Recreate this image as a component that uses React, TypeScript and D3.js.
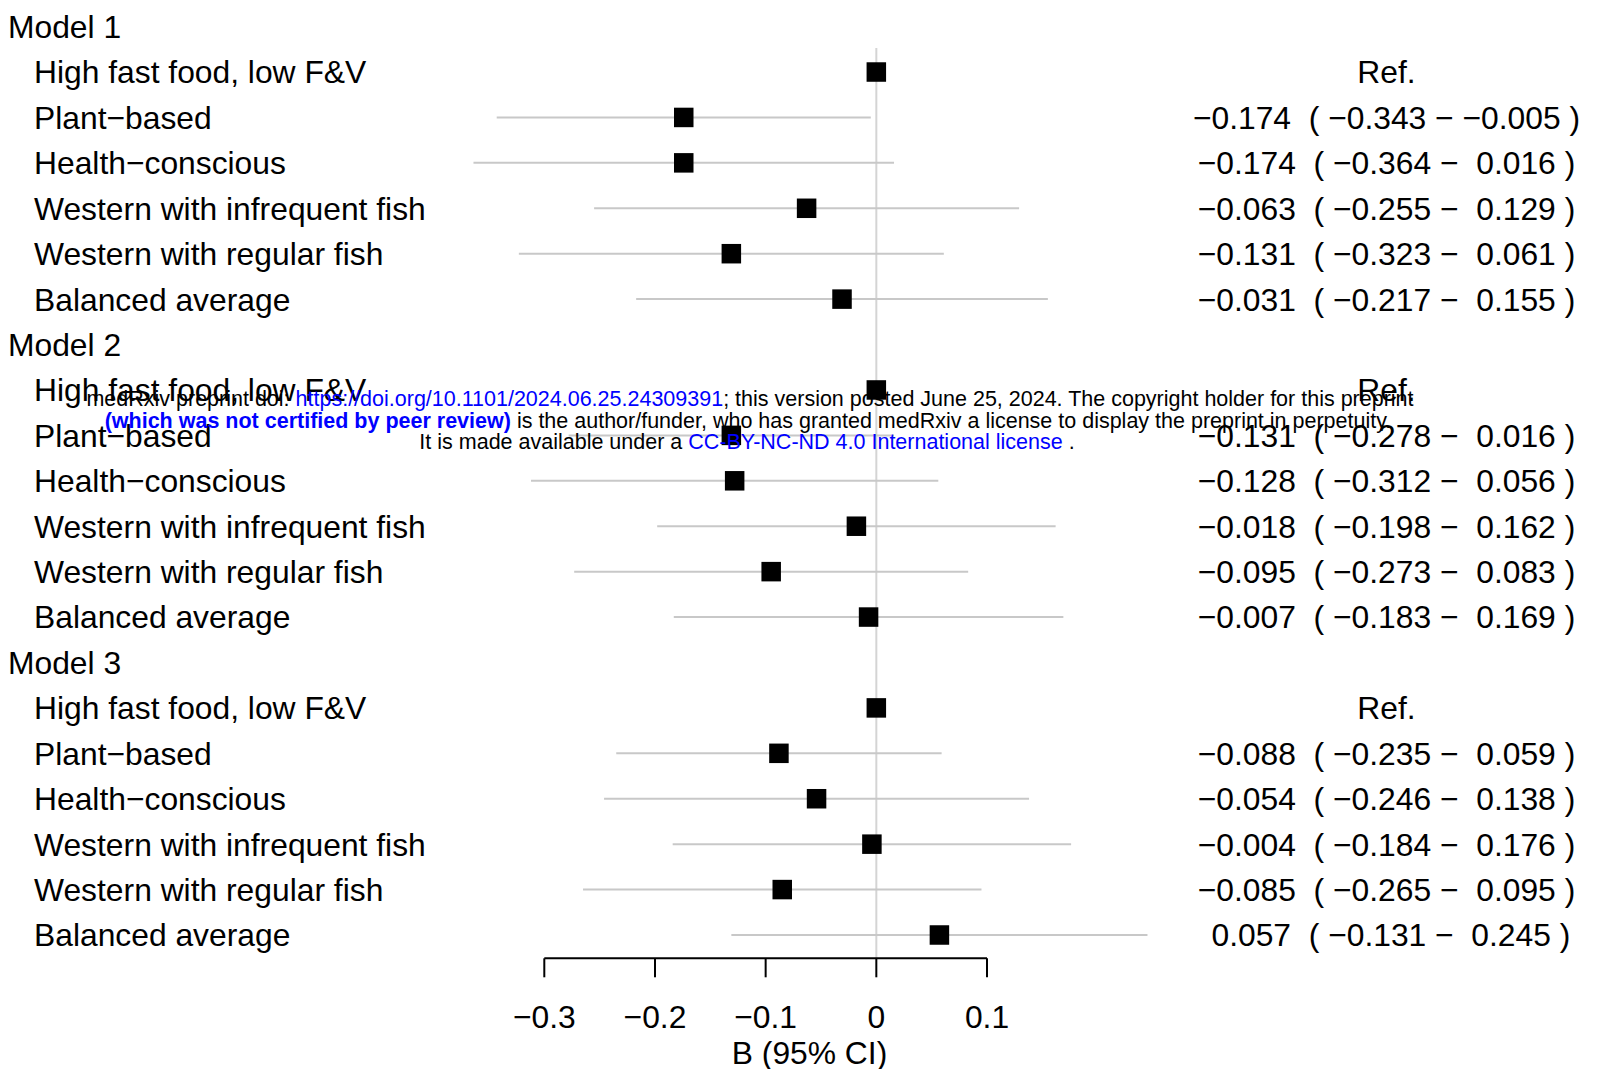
import React from "react";
import * as d3 from "d3";

const models = ["Model 1", "Model 2", "Model 3"];
const categories = [
  "High fast food, low F&V",
  "Plant\u2212based",
  "Health\u2212conscious",
  "Western with infrequent fish",
  "Western with regular fish",
  "Balanced average",
];
// null = reference category
const estimates: (number | null)[][] = [
  [null, -0.174, -0.174, -0.063, -0.131, -0.031],
  [null, -0.131, -0.128, -0.018, -0.095, -0.007],
  [null, -0.088, -0.054, -0.004, -0.085, 0.057],
];
const lowers: (number | null)[][] = [
  [null, -0.343, -0.364, -0.255, -0.323, -0.217],
  [null, -0.278, -0.312, -0.198, -0.273, -0.183],
  [null, -0.235, -0.246, -0.184, -0.265, -0.131],
];
const uppers: (number | null)[][] = [
  [null, -0.005, 0.016, 0.129, 0.061, 0.155],
  [null, 0.016, 0.056, 0.162, 0.083, 0.169],
  [null, 0.059, 0.138, 0.176, 0.095, 0.245],
];
const tickValues = [-0.3, -0.2, -0.1, 0, 0.1];
const tickLabels = ["\u22120.3", "\u22120.2", "\u22120.1", "0", "0.1"];
const xTitle = "B (95% CI)";

const FONT = "'Liberation Sans', Arial, Helvetica, sans-serif";
const FS = 31.8;

function fmt(v: number): string {
  const s = Math.abs(v).toFixed(3);
  return v < 0 ? "\u2212" + s : " " + s;
}

type Row = {
  kind: "header" | "item";
  label: string;
  est?: number | null;
  lo?: number | null;
  hi?: number | null;
};

export default function App() {
  const rows: Row[] = [];
  models.forEach((m, mi) => {
    rows.push({ kind: "header", label: m });
    categories.forEach((c, ci) => {
      rows.push({
        kind: "item",
        label: c,
        est: estimates[mi][ci],
        lo: lowers[mi][ci],
        hi: uppers[mi][ci],
      });
    });
  });

  const x = d3.scaleLinear().domain([-0.3, 0.1]).range([544.3, 987]);
  const y = d3
    .scaleLinear()
    .domain([0, rows.length - 1])
    .range([26.6, 26.6 + (rows.length - 1) * 45.42]);

  const axisY = 958.3;
  const capHalf = FS * 0.716 * 0.5;
  const sq = 19.5;
  const textColX = 1386.5;

  return (
    <div style={{ position: "absolute", left: 0, top: 0 }}>
      <svg width={1602} height={1069} style={{ display: "block", background: "#fff" }}>
        <rect x={0} y={0} width={1602} height={1069} fill="#fff" />
        {/* zero line */}
        <line x1={x(0)} x2={x(0)} y1={48} y2={axisY} stroke="#d4d4d4" strokeWidth={2} />
        {/* rows */}
        {rows.map((r, i) => {
          const yy = y(i);
          if (r.kind === "header") {
            return (
              <text key={i} x={8} y={yy + capHalf} fontFamily={FONT} fontSize={FS} fill="#000">
                {r.label}
              </text>
            );
          }
          const isRef = r.est == null;
          const est = isRef ? 0 : (r.est as number);
          const label = isRef
            ? "Ref."
            : `${fmt(est)}  ( ${fmt(r.lo as number)} \u2212 ${fmt(r.hi as number)} )`;
          return (
            <g key={i}>
              <text x={34} y={yy + capHalf} fontFamily={FONT} fontSize={FS} fill="#000">
                {r.label}
              </text>
              {!isRef && (
                <line
                  x1={x(r.lo as number)}
                  x2={x(r.hi as number)}
                  y1={yy}
                  y2={yy}
                  stroke="#c8c8c8"
                  strokeWidth={2}
                />
              )}
              <rect x={x(est) - sq / 2} y={yy - sq / 2} width={sq} height={sq} fill="#000" />
              <text
                x={textColX}
                y={yy + capHalf}
                fontFamily={FONT}
                fontSize={FS}
                fill="#000"
                textAnchor="middle"
                style={{ whiteSpace: "pre" }}
              >
                {label}
              </text>
            </g>
          );
        })}
        {/* axis */}
        <line x1={x(-0.3)} x2={x(0.1)} y1={axisY} y2={axisY} stroke="#000" strokeWidth={2} />
        {tickValues.map((t, i) => (
          <g key={i}>
            <line x1={x(t)} x2={x(t)} y1={axisY} y2={axisY + 19} stroke="#000" strokeWidth={2} />
            <text
              x={x(t)}
              y={1027.5}
              fontFamily={FONT}
              fontSize={FS}
              textAnchor="middle"
              fill="#000"
            >
              {tickLabels[i]}
            </text>
          </g>
        ))}
        <text x={809.5} y={1064} fontFamily={FONT} fontSize={FS} textAnchor="middle" fill="#000">
          {xTitle}
        </text>
        {/* medRxiv watermark */}
        <g fontFamily={FONT} fontSize={21.5} textAnchor="middle">
          <text x={750} y={406} fill="#000" style={{ whiteSpace: "pre" }}>
            <tspan>medRxiv preprint doi: </tspan>
            <tspan fill="#0000ff">https://doi.org/10.1101/2024.06.25.24309391</tspan>
            <tspan>; this version posted June 25, 2024. The copyright holder for this preprint</tspan>
          </text>
          <text x={748} y={427.5} fill="#000" style={{ whiteSpace: "pre" }}>
            <tspan fill="#0000ff" fontWeight="bold">(which was not certified by peer review)</tspan>
            <tspan> is the author/funder, who has granted medRxiv a license to display the preprint in perpetuity.</tspan>
          </text>
          <text x={747} y={449} fill="#000" style={{ whiteSpace: "pre" }}>
            <tspan>It is made available under a </tspan>
            <tspan fill="#0000ff">CC-BY-NC-ND 4.0 International license</tspan>
            <tspan> .</tspan>
          </text>
        </g>
      </svg>
    </div>
  );
}
